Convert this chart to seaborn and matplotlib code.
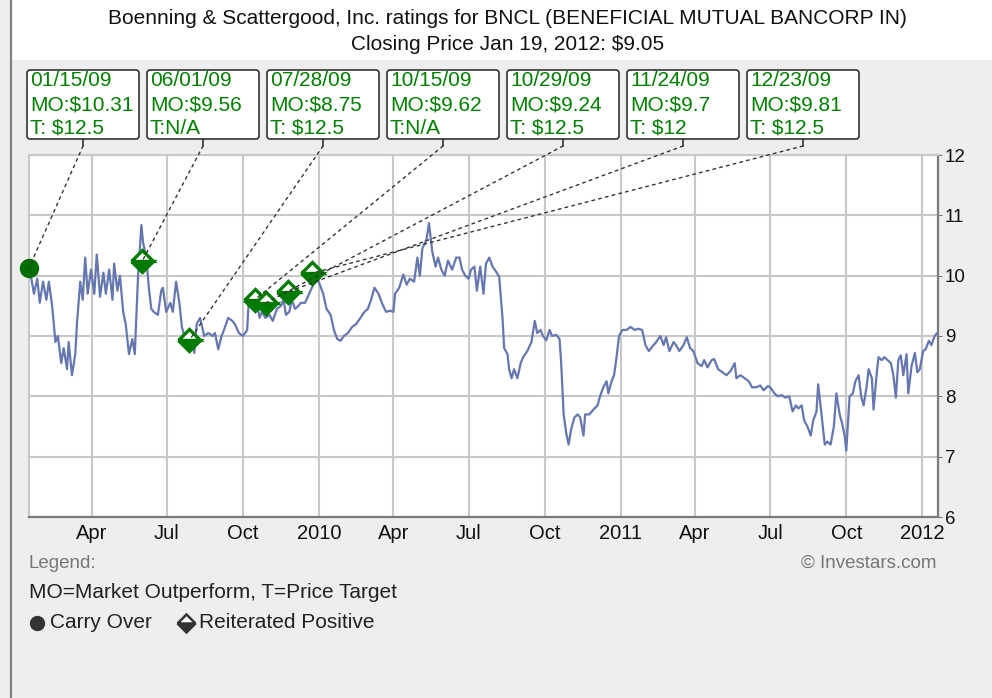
import matplotlib
matplotlib.use("Agg")
import matplotlib.pyplot as plt
import matplotlib.dates as mdates
from matplotlib.patches import ConnectionPatch, FancyBboxPatch, Rectangle
from matplotlib.lines import Line2D
import pandas as pd
import seaborn as sns

# closing prices
dates_2009 = ['2009-01-16', '2009-01-21', '2009-01-25', '2009-01-28', '2009-02-01', '2009-02-05',
              '2009-02-08', '2009-02-12', '2009-02-16', '2009-02-19', '2009-02-23', '2009-02-26',
              '2009-03-02', '2009-03-04', '2009-03-08', '2009-03-12', '2009-03-14', '2009-03-18',
              '2009-03-21', '2009-03-24', '2009-03-27', '2009-03-31', '2009-04-04', '2009-04-07',
              '2009-04-11', '2009-04-15', '2009-04-18', '2009-04-22', '2009-04-26', '2009-04-28',
              '2009-05-02', '2009-05-05', '2009-05-09', '2009-05-12', '2009-05-16', '2009-05-20',
              '2009-05-23', '2009-05-27', '2009-05-31', '2009-06-02', '2009-06-06', '2009-06-09',
              '2009-06-12', '2009-06-15', '2009-06-20', '2009-06-24', '2009-06-26', '2009-06-30',
              '2009-07-05', '2009-07-08', '2009-07-12', '2009-07-16', '2009-07-19', '2009-07-23',
              '2009-07-27', '2009-07-30', '2009-08-03', '2009-08-06', '2009-08-10', '2009-08-15',
              '2009-08-20', '2009-08-25', '2009-08-28', '2009-09-01', '2009-09-05', '2009-09-08',
              '2009-09-13', '2009-09-18', '2009-09-21', '2009-09-26', '2009-10-01', '2009-10-06',
              '2009-10-08', '2009-10-13', '2009-10-17', '2009-10-21', '2009-10-24', '2009-10-28',
              '2009-11-02', '2009-11-06', '2009-11-11', '2009-11-16', '2009-11-19', '2009-11-22',
              '2009-11-26', '2009-11-29', '2009-12-03', '2009-12-07', '2009-12-10', '2009-12-15',
              '2009-12-20', '2009-12-25', '2009-12-30']
prices_2009 = [10.10, 9.70, 9.95, 9.55, 9.90, 9.60,
               9.90, 9.50, 8.90, 9.00, 8.55, 8.80,
               8.45, 8.90, 8.35, 8.70, 9.20, 9.90,
               9.60, 10.30, 9.70, 10.10, 9.70, 10.35,
               9.65, 10.05, 9.70, 10.10, 9.60, 10.20,
               9.75, 10.00, 9.40, 9.20, 8.70, 8.95,
               8.70, 10.00, 10.84, 10.55, 10.30, 9.80,
               9.45, 9.40, 9.35, 9.75, 9.80, 9.40,
               9.55, 9.40, 9.90, 9.55, 9.15, 8.95,
               8.85, 9.05, 8.72, 9.20, 9.30, 9.00,
               9.05, 9.00, 9.05, 8.78, 9.00, 9.10,
               9.30, 9.25, 9.20, 9.05, 9.00, 9.10,
               9.60, 9.55, 9.65, 9.30, 9.40, 9.30,
               9.35, 9.25, 9.45, 9.50, 9.60, 9.35,
               9.40, 9.60, 9.45, 9.50, 9.55, 9.55,
               9.70, 9.85, 9.95]

dates_2010 = ['2010-01-02', '2010-01-06', '2010-01-10', '2010-01-15', '2010-01-19', '2010-01-23',
              '2010-01-27', '2010-01-31', '2010-02-05', '2010-02-10', '2010-02-15', '2010-02-20',
              '2010-02-25', '2010-03-01', '2010-03-05', '2010-03-09', '2010-03-14', '2010-03-18',
              '2010-03-23', '2010-03-28', '2010-04-01', '2010-04-03', '2010-04-08', '2010-04-13',
              '2010-04-17', '2010-04-21', '2010-04-26', '2010-04-30', '2010-05-03', '2010-05-06',
              '2010-05-11', '2010-05-14', '2010-05-18', '2010-05-22', '2010-05-25', '2010-05-29',
              '2010-06-02', '2010-06-06', '2010-06-11', '2010-06-16', '2010-06-20', '2010-06-23',
              '2010-06-27', '2010-07-01', '2010-07-04', '2010-07-08', '2010-07-11', '2010-07-15',
              '2010-07-19', '2010-07-22', '2010-07-26', '2010-07-30', '2010-08-04', '2010-08-07',
              '2010-08-11', '2010-08-13', '2010-08-17', '2010-08-19', '2010-08-22', '2010-08-25',
              '2010-08-29', '2010-09-02', '2010-09-05', '2010-09-10', '2010-09-15', '2010-09-19',
              '2010-09-22', '2010-09-26', '2010-09-29', '2010-10-03', '2010-10-07', '2010-10-10',
              '2010-10-15', '2010-10-19', '2010-10-21', '2010-10-24', '2010-10-27', '2010-10-30',
              '2010-11-02', '2010-11-06', '2010-11-10', '2010-11-13', '2010-11-17', '2010-11-19',
              '2010-11-24', '2010-11-29', '2010-12-04', '2010-12-07', '2010-12-11', '2010-12-15',
              '2010-12-17', '2010-12-21', '2010-12-24', '2010-12-27', '2010-12-30']
prices_2010 = [9.85, 9.70, 9.45, 9.35, 9.10, 8.95,
               8.92, 9.00, 9.05, 9.15, 9.20, 9.30,
               9.40, 9.45, 9.60, 9.80, 9.70, 9.55,
               9.40, 9.42, 9.40, 9.70, 9.80, 10.02,
               9.85, 9.95, 9.90, 10.30, 10.00, 10.45,
               10.60, 10.87, 10.40, 10.15, 10.30, 10.10,
               10.00, 10.25, 10.10, 10.30, 10.30, 10.10,
               10.00, 9.95, 10.10, 10.15, 9.75, 10.15,
               9.70, 10.20, 10.30, 10.15, 10.05, 9.98,
               9.30, 8.80, 8.70, 8.45, 8.30, 8.45,
               8.30, 8.55, 8.65, 8.75, 8.90, 9.25,
               9.05, 9.10, 9.00, 8.93, 9.10, 9.00,
               9.02, 8.95, 8.55, 7.70, 7.40, 7.20,
               7.45, 7.65, 7.70, 7.65, 7.35, 7.70,
               7.70, 7.78, 7.85, 8.00, 8.15, 8.25,
               8.05, 8.25, 8.35, 8.65, 9.00]

dates_2011 = ['2011-01-03', '2011-01-08', '2011-01-13', '2011-01-18', '2011-01-22', '2011-01-27',
              '2011-01-31', '2011-02-04', '2011-02-08', '2011-02-13', '2011-02-18', '2011-02-22',
              '2011-02-25', '2011-03-01', '2011-03-06', '2011-03-09', '2011-03-13', '2011-03-18',
              '2011-03-22', '2011-03-26', '2011-03-30', '2011-04-04', '2011-04-09', '2011-04-12',
              '2011-04-16', '2011-04-21', '2011-04-24', '2011-04-29', '2011-05-04', '2011-05-09',
              '2011-05-14', '2011-05-19', '2011-05-21', '2011-05-26', '2011-05-31', '2011-06-05',
              '2011-06-09', '2011-06-14', '2011-06-19', '2011-06-23', '2011-06-28', '2011-07-01',
              '2011-07-06', '2011-07-10', '2011-07-15', '2011-07-19', '2011-07-24', '2011-07-28',
              '2011-08-01', '2011-08-04', '2011-08-08', '2011-08-11', '2011-08-15', '2011-08-19',
              '2011-08-22', '2011-08-26', '2011-08-28', '2011-09-01', '2011-09-05', '2011-09-08',
              '2011-09-12', '2011-09-16', '2011-09-19', '2011-09-23', '2011-09-26', '2011-09-29',
              '2011-10-01', '2011-10-05', '2011-10-09', '2011-10-12', '2011-10-16', '2011-10-19',
              '2011-10-22', '2011-10-26', '2011-10-28', '2011-11-01', '2011-11-03', '2011-11-07',
              '2011-11-09', '2011-11-13', '2011-11-16', '2011-11-20', '2011-11-24', '2011-11-27',
              '2011-11-30', '2011-12-03', '2011-12-06', '2011-12-09', '2011-12-13', '2011-12-15',
              '2011-12-19', '2011-12-23', '2011-12-26', '2011-12-29']
prices_2011 = [9.10, 9.10, 9.15, 9.10, 9.12, 9.10,
               8.85, 8.75, 8.82, 8.90, 9.00, 8.85,
               8.98, 8.75, 8.90, 8.85, 8.75, 8.85,
               8.98, 8.80, 8.75, 8.55, 8.50, 8.60,
               8.48, 8.60, 8.62, 8.45, 8.40, 8.35,
               8.42, 8.55, 8.30, 8.35, 8.30, 8.25,
               8.15, 8.15, 8.18, 8.10, 8.17, 8.15,
               8.05, 8.00, 8.02, 7.98, 8.00, 7.75,
               7.85, 7.80, 7.85, 7.60, 7.50, 7.35,
               7.60, 7.75, 8.20, 7.70, 7.20, 7.25,
               7.20, 7.50, 8.05, 7.70, 7.55, 7.35,
               7.10, 8.00, 8.05, 8.25, 8.35, 8.00,
               7.85, 8.20, 8.45, 8.30, 7.78, 8.40,
               8.65, 8.60, 8.65, 8.60, 8.55, 8.35,
               7.98, 8.60, 8.68, 8.35, 8.70, 8.05,
               8.50, 8.72, 8.40, 8.45]

dates_2012 = ['2012-01-02', '2012-01-05', '2012-01-09', '2012-01-12', '2012-01-16', '2012-01-19']
prices_2012 = [8.75, 8.78, 8.92, 8.85, 9.00, 9.05]

# rating events
carry_date = '2009-01-15'
carry_price = 10.13
rating_dates = ['2009-06-01', '2009-07-28', '2009-10-15', '2009-10-29', '2009-11-24', '2009-12-23']
rating_prices = [10.24, 8.93, 9.60, 9.55, 9.73, 10.04]

box_dates = ['01/15/09', '06/01/09', '07/28/09', '10/15/09', '10/29/09', '11/24/09', '12/23/09']
box_mo = ['MO:$10.31', 'MO:$9.56', 'MO:$8.75', 'MO:$9.62', 'MO:$9.24', 'MO:$9.7', 'MO:$9.81']
box_target = ['T: $12.5', 'T:N/A', 'T: $12.5', 'T:N/A', 'T: $12.5', 'T: $12', 'T: $12.5']

tick_dates = ['2009-04-01', '2009-07-01', '2009-10-01', '2010-01-01', '2010-04-01', '2010-07-01',
              '2010-10-01', '2011-01-01', '2011-04-01', '2011-07-01', '2011-10-01', '2012-01-01']
tick_labels = ['Apr', 'Jul', 'Oct', '2010', 'Apr', 'Jul', 'Oct', '2011', 'Apr', 'Jul', 'Oct', '2012']
price_ticks = [6, 7, 8, 9, 10, 11, 12]

df = pd.DataFrame({
    'date': pd.to_datetime(dates_2009 + dates_2010 + dates_2011 + dates_2012),
    'price': prices_2009 + prices_2010 + prices_2011 + prices_2012,
})

sns.set_style('white')
plt.rcParams['font.family'] = ['Liberation Sans', 'DejaVu Sans']

W, H = 992, 698
fig = plt.figure(figsize=(W / 100, H / 100), dpi=100, facecolor='#eeeeee')
inch = fig.dpi_scale_trans


def px(x, y):
    # pixel position (from top-left) -> inches for dpi_scale_trans
    return x / 100, (H - y) / 100


# white title band and left frame line
fig.add_artist(Rectangle(px(11, 60), (W - 11) / 100, 0.60, transform=inch,
                         facecolor='white', edgecolor='none', zorder=0))
fig.add_artist(Line2D([0.11, 0.11], [0, H / 100], transform=inch, color='#808080', lw=1.6))

fig.text(*px(507, 19), 'Boenning & Scattergood, Inc. ratings for BNCL (BENEFICIAL MUTUAL BANCORP IN)',
         transform=inch, ha='center', va='center', fontsize=15, color='#111111')
fig.text(*px(508, 45), 'Closing Price Jan 19, 2012: $9.05',
         transform=inch, ha='center', va='center', fontsize=15, color='#111111')

ax = fig.add_axes([29 / W, 1 - 517 / H, 909 / W, 362 / H])
ax.set_facecolor('white')

sns.lineplot(data=df, x='date', y='price', ax=ax, color='#6677b0', linewidth=1.6, zorder=3)

ax.plot(pd.to_datetime(rating_dates), rating_prices, linestyle='none', marker='D', markersize=11,
        markeredgewidth=2.4, markeredgecolor='#007a00', markerfacecolor='#007a00',
        markerfacecoloralt='white', fillstyle='bottom', zorder=5)
ax.plot(pd.to_datetime([carry_date]), [carry_price], linestyle='none', marker='o', markersize=13,
        color='#006e00', zorder=5, clip_on=False)

ax.set_xlim(pd.Timestamp('2009-01-15'), pd.Timestamp('2012-01-20'))
ax.set_ylim(6, 12)
ax.set_xticks(pd.to_datetime(tick_dates))
ax.set_xticklabels(tick_labels)
ax.set_yticks(price_ticks)
ax.yaxis.tick_right()
ax.set_xlabel('')
ax.set_ylabel('')
ax.grid(True, color='#c8c8c8', linewidth=1.5)
ax.set_axisbelow(True)
for side in ['left', 'top']:
    ax.spines[side].set_color('#c8c8c8')
    ax.spines[side].set_linewidth(1.5)
for side in ['bottom', 'right']:
    ax.spines[side].set_color('#7a7a7a')
    ax.spines[side].set_linewidth(1.6)
ax.tick_params(axis='x', labelsize=14.5, length=3, pad=2, color='#7a7a7a', labelcolor='#111111')
ax.tick_params(axis='y', labelsize=13.5, length=3, pad=2, color='#7a7a7a', labelcolor='#111111')

# rating boxes with leader lines
targets = [(carry_date, carry_price)] + list(zip(rating_dates, rating_prices))
for i in range(len(box_dates)):
    left = 27 + 120 * i
    box = FancyBboxPatch(px(left, 139), 1.12, 0.69, boxstyle='round,pad=0,rounding_size=0.03',
                         transform=inch, facecolor='white', edgecolor='#333333', lw=1.2)
    fig.add_artist(box)
    for j, txt in enumerate([box_dates[i], box_mo[i], box_target[i]]):
        fig.text(*px(left + 3, 81 + 23.5 * j), txt, transform=inch, ha='left', va='center',
                 fontsize=15, color='#008000')
    xc = left + 56
    fig.add_artist(Line2D([xc / 100, xc / 100], [(H - 139) / 100, (H - 146) / 100],
                          transform=inch, color='#333333', lw=1.2))
    d, p = targets[i]
    con = ConnectionPatch(xyA=px(xc, 146), coordsA=inch,
                          xyB=(mdates.date2num(pd.Timestamp(d)), p), coordsB=ax.transData,
                          linestyle=(0, (2, 3)), color='#333333', lw=1.0, zorder=4)
    fig.add_artist(con)

# legend area
fig.text(*px(29, 563), 'Legend:', transform=inch, ha='left', va='center', fontsize=13.5, color='#777777')
fig.text(*px(937, 563), '\u00a9 Investars.com', transform=inch, ha='right', va='center',
         fontsize=13.5, color='#777777')
fig.text(*px(29, 593), 'MO=Market Outperform, T=Price Target', transform=inch, ha='left',
         va='center', fontsize=15, color='#222222')
fig.add_artist(Line2D([0.37], [(H - 623) / 100], transform=inch, marker='o', markersize=10,
                      color='#333333', linestyle='none'))
fig.text(*px(50, 623), 'Carry Over', transform=inch, ha='left', va='center', fontsize=15,
         color='#222222')
fig.add_artist(Line2D([1.86], [(H - 623) / 100], transform=inch, marker='D', markersize=9,
                      markeredgewidth=1.8, markeredgecolor='#333333', markerfacecolor='#333333',
                      markerfacecoloralt='white', fillstyle='bottom', linestyle='none'))
fig.text(*px(199, 623), 'Reiterated Positive', transform=inch, ha='left', va='center',
         fontsize=15, color='#222222')

fig.savefig('out.png', dpi=100, facecolor=fig.get_facecolor())
